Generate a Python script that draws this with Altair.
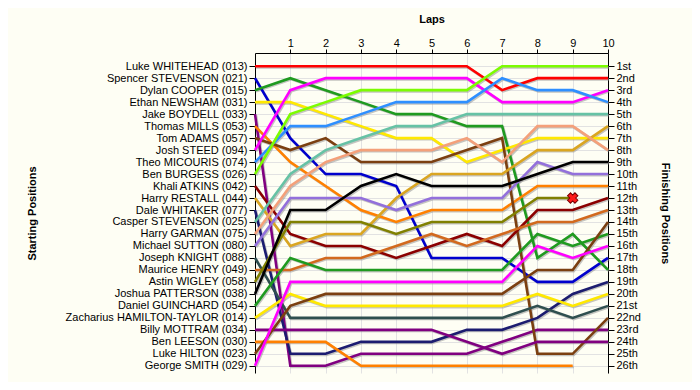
import json
import altair as alt
import pandas as pd

laps = list(range(11))

riders = [
    "Luke WHITEHEAD (013)", "Spencer STEVENSON (021)", "Dylan COOPER (015)",
    "Ethan NEWSHAM (031)", "Jake BOYDELL (033)", "Thomas MILLS (053)",
    "Tom ADAMS (057)", "Josh STEED (094)", "Theo MICOURIS (074)",
    "Ben BURGESS (026)", "Khali ATKINS (042)", "Harry RESTALL (044)",
    "Dale WHITAKER (077)", "Casper STEVENSON (025)", "Harry GARMAN (075)",
    "Michael SUTTON (080)", "Joseph KNIGHT (088)", "Maurice HENRY (049)",
    "Astin WIGLEY (058)", "Joshua PATTERSON (038)", "Daniel GUINCHARD (054)",
    "Zacharius HAMILTON-TAYLOR (014)", "Billy MOTTRAM (034)", "Ben LEESON (030)",
    "Luke HILTON (023)", "George SMITH (029)",
]

colors = [
    "#ff0000", "#0000cd", "#1f9a1f", "#ffe800", "#800080", "#ff8000",
    "#7b3f10", "#ff00ff", "#2e8fff", "#7cfc00", "#8b0000", "#daa520",
    "#1c1c70", "#66c2a5", "#f4a07a", "#9370db", "#2f4f4f", "#d2691e",
    "#808000", "#000000", "#1f9a1f", "#ffe800", "#800080", "#ff8000",
    "#7b3f10", "#ff00ff",
]

# position at laps 0..10 (None = not running)
positions = [
    [1, 1, 1, 1, 1, 1, 1, 3, 2, 2, 2],
    [2, 7, 10, 10, 11, 17, 17, 17, 19, 19, 17],
    [3, 2, 3, 4, 5, 5, 6, 6, 17, 15, 18],
    [4, 4, 5, 6, 7, 7, 9, 8, 7, 7, 7],
    [5, 26, 26, 25, 25, 25, 25, 24, 23, 23, 23],
    [6, 9, 11, 13, 14, 13, 13, 13, 11, 11, 11],
    [7, 8, 7, 9, 9, 9, 8, 7, 25, 25, 22],
    [8, 3, 2, 2, 2, 2, 2, 4, 4, 4, 3],
    [9, 6, 6, 5, 4, 4, 4, 2, 3, 3, 4],
    [10, 5, 4, 3, 3, 3, 3, 1, 1, 1, 1],
    [11, 15, 16, 16, 17, 16, 15, 16, 13, 13, 12],
    [12, 16, 15, 15, 12, 10, 10, 10, 8, 8, 6],
    [13, 25, 25, 24, 24, 24, 23, 23, 22, 20, 19],
    [14, 10, 8, 7, 6, 6, 5, 5, 5, 5, 5],
    [15, 11, 9, 8, 8, 8, 7, 9, 6, 6, 8],
    [16, 12, 12, 12, 13, 12, 12, 12, 9, 10, 10],
    [17, 22, 22, 22, 22, 22, 22, 22, 21, 22, 21],
    [18, 18, 17, 17, 16, 15, 16, 15, 14, 14, 13],
    [19, 14, 14, 14, 15, 14, 14, 14, 12, 12, None],
    [20, 13, 13, 11, 10, 11, 11, 11, 10, 9, 9],
    [21, 17, 18, 18, 18, 18, 18, 18, 15, 16, 15],
    [22, 20, 21, 21, 21, 21, 21, 21, 20, 21, 20],
    [23, 23, 23, 23, 23, 23, 24, 25, 24, 24, 24],
    [24, 24, 24, 26, 26, 26, 26, 26, 26, 26, None],
    [25, 21, 20, 20, 20, 20, 20, 20, 18, 18, 14],
    [26, 19, 19, 19, 19, 19, 19, 19, 16, 17, 16],
]

finish_labels = [
    "1st", "2nd", "3rd", "4th", "5th", "6th", "7th", "8th", "9th", "10th",
    "11th", "12th", "13th", "14th", "15th", "16th", "17th", "18th", "19th",
    "20th", "21st", "22nd", "23rd", "24th", "25th", "26th",
]

retired_rider = "Astin WIGLEY (058)"

rows = []
for i, (r, ps) in enumerate(zip(riders, positions)):
    for lap, p in zip(laps, ps):
        if p is not None:
            rows.append({"rider": r, "idx": i, "lap": lap, "pos": p})
df = pd.DataFrame(rows)
ret = df[df.rider == retired_rider].sort_values("lap").tail(1)

FONT = "Liberation Sans"
W, H = 353, 320
xscale = alt.Scale(domain=[0, 10], nice=False, zero=False)
yscale = alt.Scale(domain=[-0.1, 26.6], reverse=True, nice=False, zero=False)
pos_values = list(range(1, 27))

x_axis = alt.Axis(
    orient="top", values=laps[1:], title="Laps", grid=True, gridColor="#e2e2e2",
    tickSize=4, tickColor="black", domainColor="black", labelPadding=1,
    labelFlush=False, labelOverlap=False, titlePadding=13,
)
left_axis = alt.Axis(
    orient="left", values=pos_values, title="Starting Positions", grid=True,
    gridColor="#e2e2e2", tickSize=6, tickColor="black", domainColor="black",
    labelPadding=2, labelOverlap=False, labelFlush=False, titlePadding=28,
    labelLimit=400,
    labelExpr=json.dumps(riders) + "[datum.value - 1]",
)
right_axis = alt.Axis(
    orient="right", values=pos_values, title="Finishing Positions", grid=False,
    tickSize=6, tickColor="black", domainColor="black", labelPadding=2,
    labelOverlap=False, labelFlush=False, titlePadding=19,
    labelExpr=json.dumps(finish_labels) + "[datum.value - 1]",
)

base = alt.Chart(df)

shadow = base.transform_calculate(
    xs="datum.lap + 0.03", ys="datum.pos + 0.1"
).mark_line(color="#8c8c8c", strokeWidth=2.6, opacity=0.5).encode(
    x=alt.X("xs:Q", scale=xscale, axis=x_axis),
    y=alt.Y("ys:Q", scale=yscale, axis=left_axis),
    detail="rider:N",
)

lines = base.mark_line(strokeWidth=2.6).encode(
    x=alt.X("lap:Q", scale=xscale, axis=x_axis),
    y=alt.Y("pos:Q", scale=yscale, axis=left_axis),
    color=alt.Color("rider:N", scale=alt.Scale(domain=riders, range=colors), legend=None),
)

marker = alt.Chart(ret).mark_point(
    shape="cross", angle=45, size=110, filled=True, fill="#ff1a1a",
    stroke="#7a0000", strokeWidth=1, opacity=1,
).encode(
    x=alt.X("lap:Q", scale=xscale, axis=x_axis),
    y=alt.Y("pos:Q", scale=yscale, axis=left_axis),
)

right = base.mark_point(opacity=0).encode(
    x=alt.X("lap:Q", scale=xscale, axis=x_axis),
    y=alt.Y("pos:Q", scale=alt.Scale(domain=[-0.1, 26.6], reverse=True, nice=False, zero=False), axis=right_axis),
)

chart = alt.layer(
    alt.layer(shadow, lines, marker), right
).resolve_scale(y="independent").properties(
    width=W, height=H,
    autosize=alt.AutoSizeParams(type="none"),
    padding={"left": 247, "top": 45, "right": 84, "bottom": 9},
    background="#fefef4",
).configure_view(strokeWidth=0).configure_axis(
    labelFont=FONT, labelFontSize=11, labelColor="black",
    titleFont=FONT, titleFontSize=11, titleFontWeight="bold", titleColor="black",
)

chart.save("out.html", embed_options={"renderer": "svg", "actions": False})
